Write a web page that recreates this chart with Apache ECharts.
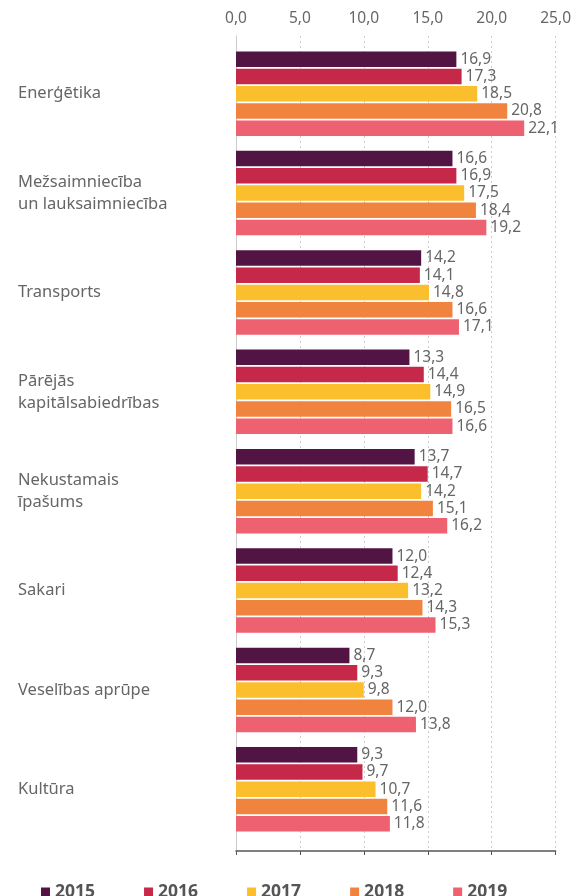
<!DOCTYPE html>
<html><head><meta charset="utf-8">
<script src="https://cdn.jsdelivr.net/npm/echarts@6/dist/echarts.min.js"></script>
<style>html,body{margin:0;padding:0;background:#fff}#c{width:574px;height:896px}</style>
</head><body><div id="c"></div>
<script>
var categories = ["Enerģētika", "Mežsaimniecība\nun lauksaimniecība", "Transports", "Pārējās\nkapitālsabiedrības", "Nekustamais\nīpašums", "Sakari", "Veselības aprūpe", "Kultūra"];
var years = ["2015", "2016", "2017", "2018", "2019"];
var v2015 = [16.9, 16.6, 14.2, 13.3, 13.7, 12.0, 8.7, 9.3];
var v2016 = [17.3, 16.9, 14.1, 14.4, 14.7, 12.4, 9.3, 9.7];
var v2017 = [18.5, 17.5, 14.8, 14.9, 14.2, 13.2, 9.8, 10.7];
var v2018 = [20.8, 18.4, 16.6, 16.5, 15.1, 14.3, 12.0, 11.6];
var v2019 = [22.1, 19.2, 17.1, 16.6, 16.2, 15.3, 13.8, 11.8];
var xTicks = [0, 5, 10, 15, 20, 25];

var colors = ["#521443", "#C52848", "#FBBF2D", "#F0843F", "#EE6170"];
var values = [v2015, v2016, v2017, v2018, v2019];
var FONT = "'Noto Sans', 'Open Sans', sans-serif";
function fmt(v) { return v.toFixed(1).replace('.', ','); }
var xMin = xTicks[0], xMax = xTicks[xTicks.length - 1];

var series = years.map(function (y, i) {
  return {
    name: y, type: 'bar', data: values[i], xAxisIndex: 0, yAxisIndex: 0,
    itemStyle: { color: colors[i] },
    barGap: '11%', barCategoryGap: '15%',
    label: { show: true, position: 'right', distance: 4, color: '#666', fontSize: 15.5, fontFamily: FONT,
      formatter: function (p) { return fmt(p.value); } }
  };
});

var chart = echarts.init(document.getElementById('c'), null, { renderer: 'canvas' });
chart.setOption({
  animation: false,
  color: colors,
  grid: [
    { left: 236, right: 12, top: 44, bottom: 57, containLabel: false },
    { left: 236, right: 12, top: 36, bottom: 45, containLabel: false }
  ],
  xAxis: [
    { type: 'value', gridIndex: 0, min: xMin, max: xMax, interval: 5, show: false },
    {
      type: 'value', gridIndex: 1, position: 'top', min: xMin, max: xMax, interval: 5,
      axisLine: { show: true, lineStyle: { color: '#555', width: 1.5 } },
      axisTick: { show: true, inside: true, length: 4, lineStyle: { color: '#555' } },
      axisLabel: { color: '#666', fontSize: 15.5, fontFamily: FONT, margin: 9, formatter: function (v) { return fmt(v); } },
      splitLine: { show: true, lineStyle: { color: '#ccc', type: [2, 3], width: 1 } }
    }
  ],
  yAxis: [
    {
      type: 'category', gridIndex: 0, data: categories, inverse: true,
      axisLine: { show: false }, axisTick: { show: false },
      axisLabel: { color: '#666', fontSize: 16.5, fontFamily: FONT, align: 'left', margin: 218, lineHeight: 22 }
    },
    {
      type: 'value', gridIndex: 1, min: 0, max: 1,
      axisLine: { show: true, lineStyle: { color: '#ccc', width: 1 } },
      axisTick: { show: false }, axisLabel: { show: false }, splitLine: { show: false }
    }
  ],
  legend: {
    bottom: -10, left: 36, itemGap: 49, itemWidth: 9, itemHeight: 9, icon: 'rect',
    data: years,
    textStyle: { color: '#555', fontSize: 17.5, fontWeight: 'bold', fontFamily: FONT }
  },
  series: series
});
</script>
</body></html>
